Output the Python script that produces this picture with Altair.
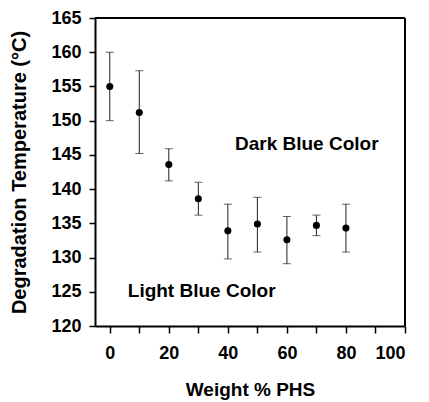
import altair as alt
import pandas as pd

weight = [0, 10, 20, 30, 40, 50, 60, 70, 80]
temp_mean = [155.0, 151.2, 143.6, 138.6, 133.9, 134.9, 132.6, 134.7, 134.3]
temp_upper = [160.0, 157.3, 145.9, 141.0, 137.8, 138.8, 136.0, 136.2, 137.8]
temp_lower = [150.0, 145.2, 141.2, 136.2, 129.8, 130.8, 129.1, 133.2, 130.8]

label_text = ["Dark Blue Color", "Light Blue Color"]
label_x = [42.4, 6.1]
label_y = [146.6, 125.1]

x_ticks = [0, 10, 20, 30, 40, 50, 60, 70, 80, 90, 100]
y_ticks = [120, 125, 130, 135, 140, 145, 150, 155, 160, 165]

FONT = "Liberation Sans"
W, H = 310, 308

df = pd.DataFrame({"w": weight, "t": temp_mean, "hi": temp_upper, "lo": temp_lower})
ldf = pd.DataFrame({"text": label_text, "x": label_x, "y": label_y})

xscale = alt.Scale(domain=[-5, 100], nice=False, zero=False)
yscale = alt.Scale(domain=[120, 165], nice=False, zero=False)

xaxis = alt.Axis(
    title="Weight % PHS",
    values=x_ticks,
    labelExpr="datum.value % 20 == 0 ? datum.label : ''",
    labelOverlap=False,
    grid=False, tickSize=7, tickColor="black", tickWidth=1.5,
    domainColor="black", domainWidth=2,
    labelFont=FONT, labelFontSize=18, labelFontWeight="bold", labelColor="black",
    labelPadding=11,
    titleFont=FONT, titleFontSize=19, titleFontWeight="bold", titleColor="black",
    titlePadding=18,
)
yaxis = alt.Axis(
    title="Degradation  Temperature (°C)",
    values=y_ticks,
    labelOverlap=False,
    grid=False, tickSize=6, tickColor="black", tickWidth=1.5,
    domainColor="black", domainWidth=2,
    labelFont=FONT, labelFontSize=18, labelFontWeight="bold", labelColor="black",
    labelPadding=8,
    titleFont=FONT, titleFontSize=20, titleFontWeight="bold", titleColor="black",
    titlePadding=21,
)

X = lambda f: alt.X(f, scale=xscale, axis=xaxis)
Y = lambda f: alt.Y(f, scale=yscale, axis=yaxis)

base = alt.Chart(df)

rules = base.mark_rule(color="#222", strokeWidth=1).encode(
    x=X("w:Q"), y=Y("lo:Q"), y2="hi:Q",
)
cap_hi = base.mark_tick(orient="horizontal", size=8, thickness=1, color="#222").encode(
    x=X("w:Q"), y=Y("hi:Q")
)
cap_lo = base.mark_tick(orient="horizontal", size=8, thickness=1, color="#222").encode(
    x=X("w:Q"), y=Y("lo:Q")
)
points = base.mark_point(filled=True, size=50, color="black", opacity=1).encode(
    x=X("w:Q"), y=Y("t:Q")
)
labels = alt.Chart(ldf).mark_text(
    align="left", baseline="middle", font=FONT, fontSize=19, fontWeight="bold", color="black"
).encode(
    x=X("x:Q"), y=Y("y:Q"), text="text:N"
)

frame_top = alt.Chart(df).mark_rule(color="black", strokeWidth=2).encode(
    x=alt.value(0), x2=alt.value(W), y=alt.value(0)
)
frame_right = alt.Chart(df).mark_rule(color="black", strokeWidth=1.5).encode(
    x=alt.value(W), y=alt.value(0), y2=alt.value(H)
)

chart = alt.layer(rules, cap_hi, cap_lo, points, labels, frame_top, frame_right).properties(
    width=W, height=H,
    background="white",
    autosize=alt.AutoSizeParams(type="none"),
    padding={"left": 87, "top": 10, "right": 16, "bottom": 75},
).configure_view(stroke=None)

chart.save("out.html", embed_options={"renderer": "svg", "actions": False})
